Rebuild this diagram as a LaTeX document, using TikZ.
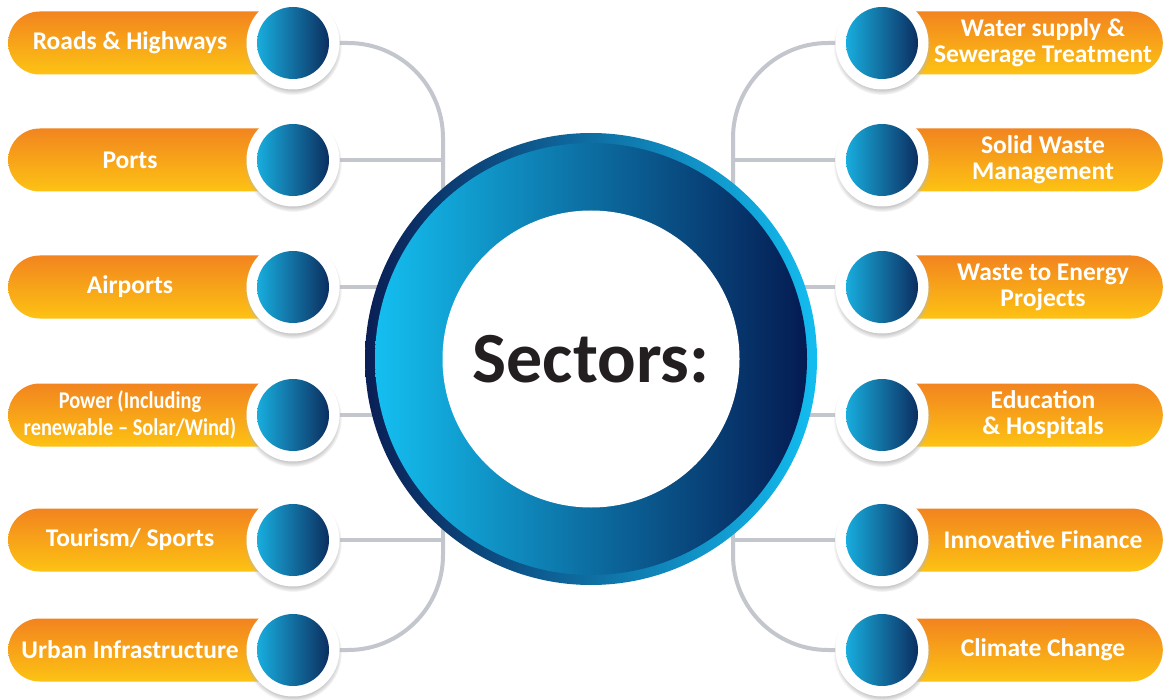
\documentclass[tikz,border=0pt]{standalone}
\usepackage{fontspec}
\setmainfont{Carlito}
\newfontfamily\condfont{Carlito}[FakeStretch=0.85]
\usetikzlibrary{shadows,fadings}
\definecolor{pillTop}{HTML}{F2841F}
\definecolor{pillBot}{HTML}{FDC313}
\definecolor{dotL}{HTML}{19C0F0}
\definecolor{dotM}{HTML}{1B6BA3}
\definecolor{dotR}{HTML}{0A1C4E}
\definecolor{ringL}{HTML}{14BFF0}
\definecolor{ringM}{HTML}{1A6DA5}
\definecolor{ringR}{HTML}{041B52}
\definecolor{rimL}{HTML}{0A1F55}
\definecolor{rimR}{HTML}{13BDF0}
\definecolor{connGray}{HTML}{C3C6CD}
\definecolor{titleInk}{HTML}{231F20}
\pgfdeclarelayer{back}
\pgfdeclarelayer{bg}
\pgfsetlayers{back,bg,main}
\begin{document}
\begin{tikzpicture}[x=1pt,y=-1pt,
  pill/.style={rounded corners=31.5pt, minimum height=63pt, minimum width=290pt, inner sep=0pt, top color=pillTop, bottom color=pillBot, draw=none},
  dot/.style={circle, fill=white, minimum size=93pt, inner sep=0pt,
    circular drop shadow={shadow xshift=0pt, shadow yshift=-3pt, shadow scale=1.05, fill=black!28},
    path picture={\shade[left color=dotL, middle color=dotM, right color=dotR] (path picture bounding box.center) circle[radius=36pt];}},
  lbl/.style={text=white, font=\fontsize{25.5}{26}\selectfont\bfseries, align=center, inner sep=0pt},
  condlbl/.style={text=white, font=\fontsize{24}{27.5}\selectfont\condfont\bfseries, align=center, inner sep=0pt},
  conn/.style={draw=connGray, line width=4pt}
]
\useasboundingbox (0,0) rectangle (1166,700);
\begin{pgfonlayer}{back}
\fill[white] (0,0) rectangle (1166,700);
\end{pgfonlayer}

% central ring
\node[circle, minimum size=452pt, inner sep=0pt, left color=rimL, right color=rimR] (ring) at (591,359) {};
\node[circle, minimum size=432pt, inner sep=0pt, left color=ringL, middle color=ringM, right color=ringR] (ringin) at (ring.center) {};
\node[circle, minimum size=297pt, inner sep=0pt, fill=white] (hole) at (ring.center) {};
\node[text=titleInk, font=\fontsize{72}{80}\selectfont\bfseries, inner sep=0pt] (title) at (591,359) {Sectors:};

% left pills
\node[pill, anchor=west] (pL1) at (8,43) {};
\node[pill, anchor=west] (pL2) at (8,160) {};
\node[pill, anchor=west] (pL3) at (8,287) {};
\node[pill, anchor=west] (pL4) at (8,415) {};
\node[pill, anchor=west] (pL5) at (8,540) {};
\node[pill, anchor=west] (pL6) at (8,650) {};
% right pills
\node[pill, anchor=east] (pR1) at (1163,43) {};
\node[pill, anchor=east] (pR2) at (1163,160) {};
\node[pill, anchor=east] (pR3) at (1163,287) {};
\node[pill, anchor=east] (pR4) at (1163,415) {};
\node[pill, anchor=east] (pR5) at (1163,540) {};
\node[pill, anchor=east] (pR6) at (1163,650) {};

% circles
\node[dot] (L1) at (293,43) {};
\node[dot] (L2) at (293,160) {};
\node[dot] (L3) at (293,287) {};
\node[dot] (L4) at (293,415) {};
\node[dot] (L5) at (293,540) {};
\node[dot] (L6) at (293,650) {};
\node[dot] (R1) at (882,43) {};
\node[dot] (R2) at (882,160) {};
\node[dot] (R3) at (882,287) {};
\node[dot] (R4) at (882,415) {};
\node[dot] (R5) at (882,540) {};
\node[dot] (R6) at (882,650) {};

% labels
\node[lbl] (tL1) at (130,43) {Roads \& Highways};
\node[lbl] (tL2) at (130,160) {Ports};
\node[lbl] (tL3) at (130,287) {Airports};
\node[condlbl] (tL4) at (130,415) {Power (Including\\renewable – Solar/Wind)};
\node[lbl] (tL5) at (130,540) {Tourism/ Sports};
\node[lbl] (tL6) at (130,650) {Urban Infrastructure};
\node[lbl] (tR1) at (1043,43) {Water supply \&\\Sewerage Treatment};
\node[lbl] (tR2) at (1043,160) {Solid Waste\\Management};
\node[lbl] (tR3) at (1043,287) {Waste to Energy\\Projects};
\node[lbl] (tR4) at (1043,415) {Education\\\& Hospitals};
\node[lbl] (tR5) at (1043,540) {Innovative Finance};
\node[lbl] (tR6) at (1043,650) {Climate Change};

% connectors
\coordinate (LB) at (443,359);
\coordinate (RB) at (733,359);
\begin{pgfonlayer}{bg}
\draw[conn, rounded corners=95pt] (L1.east) -| (LB);
\draw[conn] (L2.east) -- (L2.east -| LB);
\draw[conn] (L3.east) -- (L3.east -| ring.center);
\draw[conn] (L4.east) -- (L4.east -| ring.center);
\draw[conn] (L5.east) -- (L5.east -| LB);
\draw[conn, rounded corners=95pt] (L6.east) -| (LB);
\draw[conn, rounded corners=95pt] (R1.west) -| (RB);
\draw[conn] (R2.west) -- (R2.west -| RB);
\draw[conn] (R3.west) -- (R3.west -| ring.center);
\draw[conn] (R4.west) -- (R4.west -| ring.center);
\draw[conn] (R5.west) -- (R5.west -| RB);
\draw[conn, rounded corners=95pt] (R6.west) -| (RB);
\end{pgfonlayer}
\end{tikzpicture}
\end{document}
